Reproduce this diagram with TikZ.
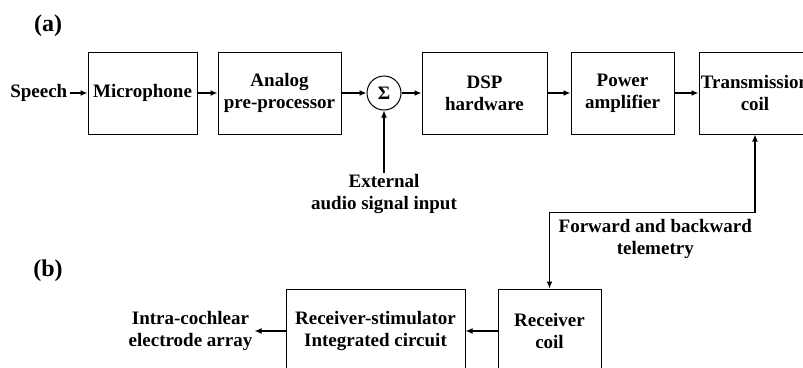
\documentclass[tikz,border=0pt]{standalone}
\usepackage{fontspec}
\setmainfont{Liberation Serif}
\usetikzlibrary{arrows.meta,positioning,calc}

\begin{document}
\begin{tikzpicture}[x=1pt,y=1pt,font=\fontsize{19}{22}\selectfont\bfseries,>={Latex[length=7pt,width=6pt]},
  blk/.style={draw,line width=1pt,minimum height=82pt,align=center,inner sep=0pt},
  lbl/.style={align=center,inner sep=2pt},
  part/.style={font=\fontsize{24}{26}\selectfont\bfseries},
  sig/.style={->,line width=2pt},
  thn/.style={->,line width=1.3pt}]
  \useasboundingbox (0,0) rectangle (803,-367);
  \clip (0,0) rectangle (803,-367);
  % (a) external part
  \node[part] (pa) at (48,-26) {(a)};
  \node[blk,minimum width=109pt] (mic) at (142.5,-93) {Microphone};
  \node[blk,minimum width=123pt,right=20pt of mic] (pre) {Analog\\pre-processor};
  \node[draw,circle,line width=1pt,minimum size=34pt,inner sep=0pt,right=25pt of pre] (sum) {Σ};
  \node[blk,minimum width=125pt,right=20pt of sum] (dsp) {DSP\\hardware};
  \node[blk,minimum width=103pt,right=23pt of dsp] (amp) {Power\\amplifier};
  \node[blk,minimum width=112pt,right=24pt of amp] (tx) {Transmission\\coil};
  \node[lbl,left=18pt of mic] (speech) {Speech};
  \node[lbl,below=62pt of sum] (ext) {External\\audio signal input};
  \draw[->,line width=1.5pt](speech)--(mic);
  \draw[sig](mic)--(pre);\draw[sig](pre)--(sum);\draw[sig](sum)--(dsp);
  \draw[sig](dsp)--(amp);\draw[sig](amp)--(tx);
  \draw[sig](ext)--(sum);
  % (b) implanted part
  \node[part] (pb) at (48,-271) {(b)};
  \node[blk,minimum width=103pt,minimum height=84pt] (rc) at (549.5,-331) {Receiver\\coil};
  \node[blk,minimum width=179pt,minimum height=84pt,left=32pt of rc] (rs) {Receiver-stimulator\\Integrated circuit};
  \node[lbl,left=31pt of rs] (elec) {Intra-cochlear\\electrode array};
  \draw[thn](rc)--(rs);\draw[thn](rs)--(elec);
  % telemetry link
  \coordinate (bend) at ($(tx.south)+(0,-78)$);
  \draw[<->,line width=1.3pt](tx.south)--(bend)-|(rc.north);
  \node[lbl,below=5pt of $(bend)!0.5!(bend-|rc.north)$,xshift=3pt] (tel) {Forward and backward\\telemetry};
\end{tikzpicture}
\end{document}
